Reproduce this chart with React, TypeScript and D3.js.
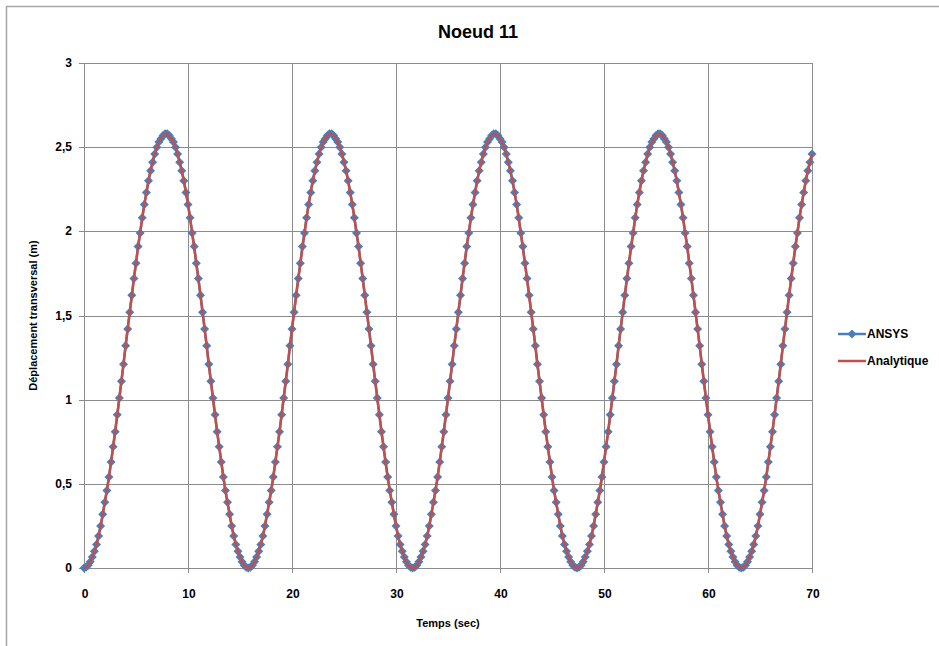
import { useEffect, useRef } from "react";
import * as d3 from "d3";

// time step of the sampled series (s)
const ansysStep = 0.2;
const analytiqueStep = 0.4;

const ansysValues = [
  0, 0.004, 0.016, 0.037, 0.065, 0.1, 0.14, 0.19, 0.25, 0.32, 0.39, 0.46, 0.54, 0.63, 0.72, 0.81, 0.91, 1.01, 1.11, 1.21,
  1.32, 1.42, 1.52, 1.62, 1.72, 1.81, 1.91, 1.99, 2.08, 2.16, 2.23, 2.3, 2.36, 2.41, 2.46, 2.5, 2.53, 2.55, 2.57, 2.58,
  2.58, 2.57, 2.55, 2.53, 2.5, 2.46, 2.41, 2.36, 2.3, 2.23, 2.16, 2.08, 1.99, 1.91, 1.81, 1.72, 1.62, 1.52, 1.42, 1.32,
  1.21, 1.11, 1.01, 0.91, 0.81, 0.72, 0.63, 0.54, 0.46, 0.39, 0.32, 0.25, 0.19, 0.14, 0.1, 0.065, 0.037, 0.016, 0.004,
  0, 0.004, 0.016, 0.037, 0.065, 0.1, 0.14, 0.19, 0.25, 0.32, 0.39, 0.46, 0.54, 0.63, 0.72, 0.81, 0.91, 1.01, 1.11, 1.21,
  1.32, 1.42, 1.52, 1.62, 1.72, 1.81, 1.91, 1.99, 2.08, 2.16, 2.23, 2.3, 2.36, 2.41, 2.46, 2.5, 2.53, 2.55, 2.57, 2.58,
  2.58, 2.57, 2.55, 2.53, 2.5, 2.46, 2.41, 2.36, 2.3, 2.23, 2.16, 2.08, 1.99, 1.91, 1.81, 1.72, 1.62, 1.52, 1.42, 1.32,
  1.21, 1.11, 1.01, 0.91, 0.81, 0.72, 0.63, 0.54, 0.46, 0.39, 0.32, 0.25, 0.19, 0.14, 0.1, 0.065, 0.037, 0.016, 0.004,
  0, 0.004, 0.016, 0.037, 0.065, 0.1, 0.14, 0.19, 0.25, 0.32, 0.39, 0.46, 0.54, 0.63, 0.72, 0.81, 0.91, 1.01, 1.11, 1.21,
  1.32, 1.42, 1.52, 1.62, 1.72, 1.81, 1.91, 1.99, 2.08, 2.16, 2.23, 2.3, 2.36, 2.41, 2.46, 2.5, 2.53, 2.55, 2.57, 2.58,
  2.58, 2.57, 2.55, 2.53, 2.5, 2.46, 2.41, 2.36, 2.3, 2.23, 2.16, 2.08, 1.99, 1.91, 1.81, 1.72, 1.62, 1.52, 1.42, 1.32,
  1.21, 1.11, 1.01, 0.91, 0.81, 0.72, 0.63, 0.54, 0.46, 0.39, 0.32, 0.25, 0.19, 0.14, 0.1, 0.065, 0.037, 0.016, 0.004,
  0, 0.004, 0.016, 0.037, 0.065, 0.1, 0.14, 0.19, 0.25, 0.32, 0.39, 0.46, 0.54, 0.63, 0.72, 0.81, 0.91, 1.01, 1.11, 1.21,
  1.32, 1.42, 1.52, 1.62, 1.72, 1.81, 1.91, 1.99, 2.08, 2.16, 2.23, 2.3, 2.36, 2.41, 2.46, 2.5, 2.53, 2.55, 2.57, 2.58,
  2.58, 2.57, 2.55, 2.53, 2.5, 2.46, 2.41, 2.36, 2.3, 2.23, 2.16, 2.08, 1.99, 1.91, 1.81, 1.72, 1.62, 1.52, 1.42, 1.32,
  1.21, 1.11, 1.01, 0.91, 0.81, 0.72, 0.63, 0.54, 0.46, 0.39, 0.32, 0.25, 0.19, 0.14, 0.1, 0.065, 0.037, 0.016, 0.004,
  0, 0.004, 0.016, 0.037, 0.065, 0.1, 0.14, 0.19, 0.25, 0.32, 0.39, 0.46, 0.54, 0.63, 0.72, 0.81, 0.91, 1.01, 1.11, 1.21,
  1.32, 1.42, 1.52, 1.62, 1.72, 1.81, 1.91, 1.99, 2.08, 2.16, 2.23, 2.3, 2.36, 2.41, 2.46,
];

const analytiqueValues = [
  0, 0.016, 0.065, 0.14, 0.25, 0.39, 0.54, 0.72, 0.91, 1.11, 1.32, 1.52, 1.72, 1.91, 2.08, 2.23, 2.36, 2.46, 2.53, 2.57,
  2.58, 2.55, 2.5, 2.41, 2.3, 2.16, 1.99, 1.81, 1.62, 1.42, 1.21, 1.01, 0.81, 0.63, 0.46, 0.32, 0.19, 0.1, 0.037, 0.004,
  0.004, 0.037, 0.1, 0.19, 0.32, 0.46, 0.63, 0.81, 1.01, 1.21, 1.42, 1.62, 1.81, 1.99, 2.16, 2.3, 2.41, 2.5, 2.55, 2.58,
  2.57, 2.53, 2.46, 2.36, 2.23, 2.08, 1.91, 1.72, 1.52, 1.32, 1.11, 0.91, 0.72, 0.54, 0.39, 0.25, 0.14, 0.065, 0.016,
  0, 0.016, 0.065, 0.14, 0.25, 0.39, 0.54, 0.72, 0.91, 1.11, 1.32, 1.52, 1.72, 1.91, 2.08, 2.23, 2.36, 2.46, 2.53, 2.57,
  2.58, 2.55, 2.5, 2.41, 2.3, 2.16, 1.99, 1.81, 1.62, 1.42, 1.21, 1.01, 0.81, 0.63, 0.46, 0.32, 0.19, 0.1, 0.037, 0.004,
  0.004, 0.037, 0.1, 0.19, 0.32, 0.46, 0.63, 0.81, 1.01, 1.21, 1.42, 1.62, 1.81, 1.99, 2.16, 2.3, 2.41, 2.5, 2.55, 2.58,
  2.57, 2.53, 2.46, 2.36, 2.23, 2.08, 1.91, 1.72, 1.52, 1.32, 1.11, 0.91, 0.72, 0.54, 0.39, 0.25, 0.14, 0.065, 0.016,
  0, 0.016, 0.065, 0.14, 0.25, 0.39, 0.54, 0.72, 0.91, 1.11, 1.32, 1.52, 1.72, 1.91, 2.08, 2.23, 2.36, 2.46,
];

const xTicks = [0, 10, 20, 30, 40, 50, 60, 70];
const yTicks = [0, 0.5, 1, 1.5, 2, 2.5, 3];
const seriesNames = ["ANSYS", "Analytique"];

const BLUE = "#4a7ebb";
const RED = "#c0504d";
const GRID = "#8c8c8c";
const FONT = "'Liberation Sans', Arial, sans-serif";

export default function App() {
  const ref = useRef<HTMLDivElement>(null);

  useEffect(() => {
    const container = d3.select(ref.current);
    container.selectAll("*").remove();

    const width = 939;
    const height = 646;
    const margin = { top: 63, right: 127, bottom: 78, left: 84 };

    const svg = container
      .append("svg")
      .attr("width", width)
      .attr("height", height)
      .style("position", "absolute")
      .style("left", "0px")
      .style("top", "0px")
      .style("background", "#fff");

    // outer chart frame
    svg
      .append("rect")
      .attr("x", 6.5)
      .attr("y", 6.5)
      .attr("width", width)
      .attr("height", height)
      .attr("fill", "none")
      .attr("stroke", "#a6a6a6")
      .attr("stroke-width", 1.5);

    const x = d3
      .scaleLinear()
      .domain([0, 70])
      .range([margin.left, width - margin.right]);

    const y = d3
      .scaleLinear()
      .domain([0, 3])
      .range([height - margin.bottom, margin.top]);

    const fmt = (v: number) => String(v).replace(".", ",");

    // gridlines
    svg
      .append("g")
      .selectAll("line")
      .data(yTicks)
      .join("line")
      .attr("x1", margin.left - 5)
      .attr("x2", x(70))
      .attr("y1", (d) => Math.round(y(d)) + 0.5)
      .attr("y2", (d) => Math.round(y(d)) + 0.5)
      .attr("stroke", GRID)
      .attr("stroke-width", 1);

    svg
      .append("g")
      .selectAll("line")
      .data(xTicks)
      .join("line")
      .attr("x1", (d) => Math.round(x(d)) + 0.5)
      .attr("x2", (d) => Math.round(x(d)) + 0.5)
      .attr("y1", y(3))
      .attr("y2", y(0) + 5)
      .attr("stroke", GRID)
      .attr("stroke-width", 1);

    // tick labels
    svg
      .append("g")
      .selectAll("text")
      .data(yTicks)
      .join("text")
      .attr("x", margin.left - 12)
      .attr("y", (d) => y(d) + 4)
      .attr("text-anchor", "end")
      .style("font", `bold 12px ${FONT}`)
      .attr("fill", "#000")
      .text((d) => fmt(d));

    svg
      .append("g")
      .selectAll("text")
      .data(xTicks)
      .join("text")
      .attr("x", (d) => x(d) + 1)
      .attr("y", y(0) + 30)
      .attr("text-anchor", "middle")
      .style("font", `bold 12px ${FONT}`)
      .attr("fill", "#000")
      .text((d) => fmt(d));

    // titles
    svg
      .append("text")
      .attr("x", 478)
      .attr("y", 38)
      .attr("text-anchor", "middle")
      .style("font", `bold 18px ${FONT}`)
      .text("Noeud 11");

    svg
      .append("text")
      .attr("x", 448)
      .attr("y", 627)
      .attr("text-anchor", "middle")
      .style("font", `bold 11px ${FONT}`)
      .text("Temps (sec)");

    svg
      .append("text")
      .attr("transform", `translate(37,${(y(0) + y(3)) / 2}) rotate(-90)`)
      .attr("text-anchor", "middle")
      .style("font", `bold 11px ${FONT}`)
      .text("Déplacement transversal (m)");

    const ansys = ansysValues.map((v, i) => ({ t: i * ansysStep, v }));
    const analytique = analytiqueValues.map((v, i) => ({ t: i * analytiqueStep, v }));

    const line = d3
      .line<{ t: number; v: number }>()
      .x((d) => x(d.t))
      .y((d) => y(d.v));

    const diamond = "M0,-4.5L4.5,0L0,4.5L-4.5,0Z";

    // ANSYS: line + diamond markers
    svg
      .append("path")
      .datum(ansys)
      .attr("fill", "none")
      .attr("stroke", BLUE)
      .attr("stroke-width", 2.5)
      .attr("d", line);

    svg
      .append("g")
      .selectAll("path")
      .data(ansys)
      .join("path")
      .attr("transform", (d) => `translate(${x(d.t)},${y(d.v)})`)
      .attr("d", diamond)
      .attr("fill", BLUE);

    // Analytique on top
    svg
      .append("path")
      .datum(analytique)
      .attr("fill", "none")
      .attr("stroke", RED)
      .attr("stroke-width", 2.5)
      .attr("d", line.curve(d3.curveCatmullRom));

    // legend
    const legend = svg.append("g").attr("transform", "translate(838,0)");
    const rows = [334, 361];
    seriesNames.forEach((name, i) => {
      const color = i === 0 ? BLUE : RED;
      legend
        .append("line")
        .attr("x1", 0)
        .attr("x2", 28)
        .attr("y1", rows[i])
        .attr("y2", rows[i])
        .attr("stroke", color)
        .attr("stroke-width", 2.5);
      if (i === 0) {
        legend
          .append("path")
          .attr("transform", `translate(14,${rows[i]})`)
          .attr("d", diamond)
          .attr("fill", BLUE);
      }
      legend
        .append("text")
        .attr("x", 29)
        .attr("y", rows[i] + 4)
        .style("font", `bold 12px ${FONT}`)
        .text(name);
    });
  }, []);

  return <div ref={ref} />;
}
